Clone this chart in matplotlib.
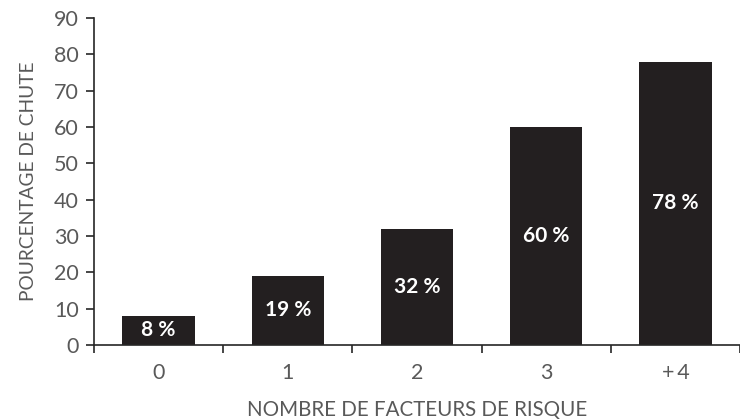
import numpy as np
from matplotlib import pyplot as plt

categories = ['0', '1', '2', '3', '+\u20094']
values = [8, 19, 32, 60, 78]
bar_labels = ['8 %', '19 %', '32 %', '60 %', '78 %']

plt.rcParams['font.family'] = ['Lato', 'DejaVu Sans']

fig = plt.figure(figsize=(7.4, 4.19), dpi=100)
ax = fig.add_axes([94 / 740, 1 - 345 / 419, 1 - 94 / 740, (345 - 18) / 419])

x = np.arange(len(categories))
bars = ax.bar(x, values, width=0.56, color='#231f20', zorder=2)

for rect, lab, v in zip(bars, bar_labels, values):
    ax.text(rect.get_x() + rect.get_width() / 2, v / 2, lab, ha='center', va='center',
            color='white', fontsize=15, fontweight='bold')

ax.set_xlim(-0.5, len(categories) - 0.5)
ax.set_ylim(0, 90)
ax.set_yticks(np.arange(0, 91, 10))
ax.set_xticks(x)
ax.set_xticklabels(categories)
ax.set_xticks(np.arange(-0.5, len(categories), 1), minor=True)

ax.spines['top'].set_visible(False)
ax.spines['right'].set_visible(False)
ax.spines['left'].set_color('#262626')
ax.spines['bottom'].set_color('#262626')
ax.spines['left'].set_linewidth(1.2)
ax.spines['bottom'].set_linewidth(1.2)

ax.tick_params(axis='y', direction='out', length=6, width=1.2, color='#262626',
               labelcolor='#595959', labelsize=15.5, pad=5)
ax.tick_params(axis='x', which='major', length=0, labelcolor='#595959', labelsize=15.5, pad=13)
ax.tick_params(axis='x', which='minor', direction='out', length=6, width=1.2, color='#262626')

ax.set_xlabel('NOMBRE DE FACTEURS DE RISQUE', color='#595959', fontsize=14.8, labelpad=12)
ax.set_ylabel('POURCENTAGE DE CHUTE', color='#595959', fontsize=13.8, labelpad=12)

fig.savefig('out.png', dpi=100)
